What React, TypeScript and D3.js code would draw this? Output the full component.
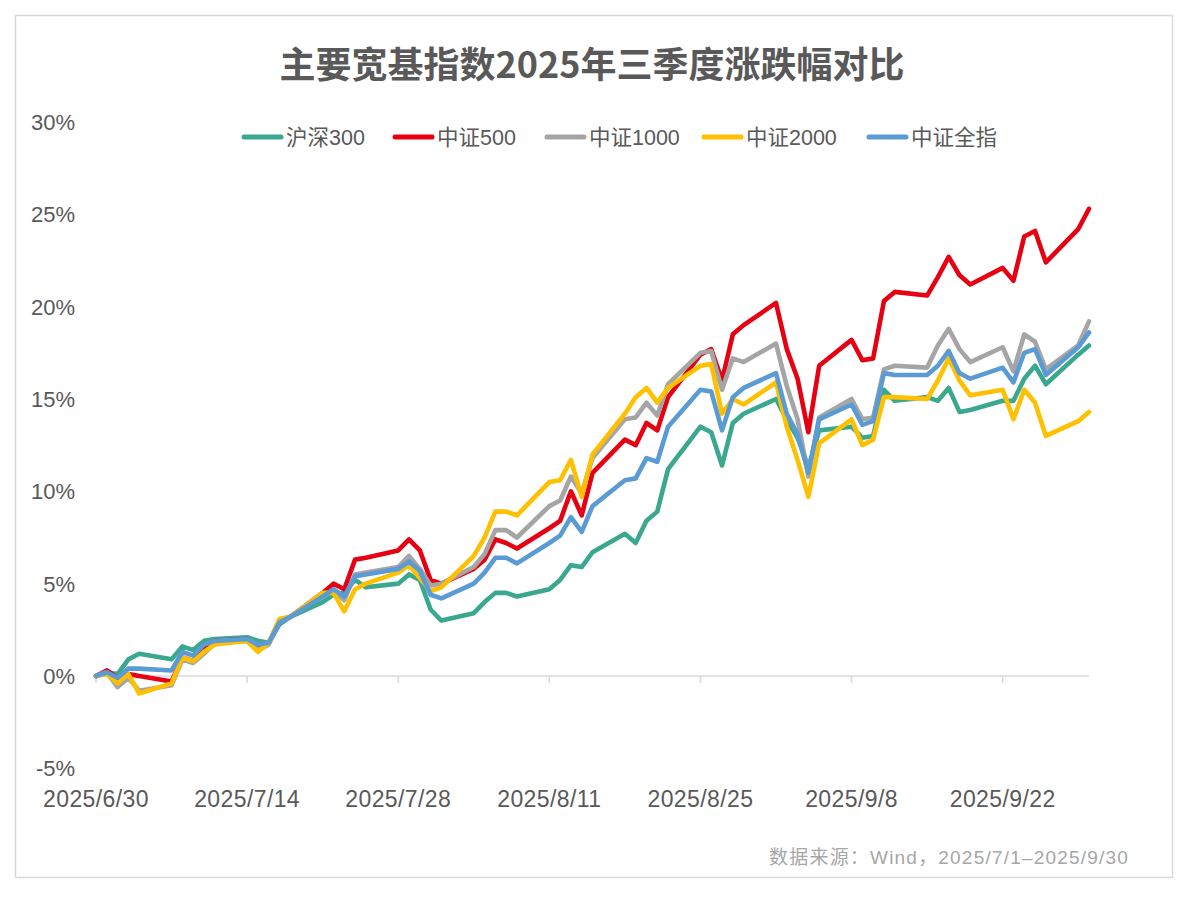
import React, { FC, useMemo } from 'react'
import * as d3 from 'd3'

// 交易日（2025/6/30 为基期）
const dates = [
	'2025-06-30', '2025-07-01', '2025-07-02', '2025-07-03', '2025-07-04',
	'2025-07-07', '2025-07-08', '2025-07-09', '2025-07-10', '2025-07-11',
	'2025-07-14', '2025-07-15', '2025-07-16', '2025-07-17', '2025-07-18',
	'2025-07-21', '2025-07-22', '2025-07-23', '2025-07-24', '2025-07-25',
	'2025-07-28', '2025-07-29', '2025-07-30', '2025-07-31', '2025-08-01',
	'2025-08-04', '2025-08-05', '2025-08-06', '2025-08-07', '2025-08-08',
	'2025-08-11', '2025-08-12', '2025-08-13', '2025-08-14', '2025-08-15',
	'2025-08-18', '2025-08-19', '2025-08-20', '2025-08-21', '2025-08-22',
	'2025-08-25', '2025-08-26', '2025-08-27', '2025-08-28', '2025-08-29',
	'2025-09-01', '2025-09-02', '2025-09-03', '2025-09-04', '2025-09-05',
	'2025-09-08', '2025-09-09', '2025-09-10', '2025-09-11', '2025-09-12',
	'2025-09-15', '2025-09-16', '2025-09-17', '2025-09-18', '2025-09-19',
	'2025-09-22', '2025-09-23', '2025-09-24', '2025-09-25', '2025-09-26',
	'2025-09-29', '2025-09-30'
]

// 累计涨跌幅（%）
const hs300 = [
	0, 0.2, 0.1, 0.9, 1.2,
	0.9, 1.6, 1.4, 1.9, 2.0,
	2.1, 1.9, 1.8, 2.8, 3.2,
	4.0, 4.4, 4.5, 5.2, 4.8,
	5.0, 5.5, 5.2, 3.6, 3.0,
	3.4, 4.0, 4.5, 4.5, 4.3,
	4.7, 5.2, 6.0, 5.9, 6.7,
	7.7, 7.2, 8.4, 8.9, 11.2,
	13.5, 13.2, 11.4, 13.7, 14.2,
	15.0, 13.9, 12.9, 11.3, 13.3,
	13.5, 12.9, 13.0, 15.5, 14.9,
	15.1, 14.9, 15.6, 14.3, 14.4,
	14.9, 14.9, 16.1, 16.8, 15.8,
	17.4, 17.9
]

const zz500 = [
	0, 0.3, -0.1, 0.1, 0.0,
	-0.3, 1.0, 0.8, 1.4, 1.9,
	2.0, 1.6, 1.8, 2.9, 3.2,
	4.5, 5.0, 4.7, 6.3, 6.4,
	6.8, 7.4, 6.8, 5.2, 5.0,
	5.8, 6.3, 7.4, 7.2, 6.9,
	8.0, 8.4, 10.0, 8.7, 11.0,
	12.8, 12.5, 13.7, 13.3, 15.1,
	17.4, 17.7, 16.0, 18.5, 19.0,
	20.2, 17.7, 16.1, 13.2, 16.8,
	18.2, 17.1, 17.2, 20.3, 20.8,
	20.6, 21.6, 22.7, 21.7, 21.2,
	22.1, 21.4, 23.8, 24.1, 22.4,
	24.2, 25.3
]

const zz1000 = [
	0, 0.2, -0.6, -0.1, -0.8,
	-0.5, 0.9, 0.7, 1.2, 1.8,
	1.9, 1.4, 1.7, 2.9, 3.2,
	4.4, 4.6, 4.1, 5.5, 5.6,
	5.9, 6.5, 5.8, 4.9, 5.0,
	5.9, 6.6, 7.9, 7.9, 7.5,
	9.2, 9.5, 10.8, 9.9, 11.8,
	13.9, 14.0, 14.8, 14.1, 15.8,
	17.5, 17.6, 15.5, 17.2, 17.0,
	18.0, 15.7, 13.9, 10.8, 14.0,
	15.0, 13.9, 14.0, 16.6, 16.8,
	16.7, 17.9, 18.8, 17.7, 17.0,
	17.8, 16.5, 18.5, 18.1, 16.6,
	17.9, 19.2
]

const zz2000 = [
	0, 0.1, -0.4, 0.1, -0.95,
	-0.4, 1.0, 0.8, 1.3, 1.7,
	1.9, 1.3, 1.8, 3.1, 3.2,
	4.5, 4.5, 3.5, 4.7, 5.0,
	5.6, 6.0, 5.3, 4.6, 4.8,
	6.5, 7.5, 8.9, 8.9, 8.7,
	10.5, 10.6, 11.7, 9.7, 12.0,
	14.2, 15.1, 15.6, 14.8, 15.6,
	16.8, 16.9, 14.2, 15.0, 14.7,
	15.9, 13.5, 11.7, 9.7, 12.6,
	13.9, 12.5, 12.8, 15.1, 15.1,
	15.0, 16.0, 17.2, 16.0, 15.2,
	15.5, 13.9, 15.5, 14.8, 13.0,
	13.8, 14.3
]

const zzqz = [
	0, 0.2, -0.1, 0.4, 0.4,
	0.3, 1.3, 1.1, 1.7, 1.9,
	2.0, 1.7, 1.8, 2.9, 3.2,
	4.3, 4.7, 4.3, 5.4, 5.5,
	5.8, 6.2, 5.7, 4.4, 4.2,
	5.0, 5.6, 6.4, 6.4, 6.1,
	7.2, 7.6, 8.6, 7.8, 9.2,
	10.6, 10.7, 11.8, 11.6, 13.5,
	15.5, 15.4, 13.3, 15.1, 15.6,
	16.4, 14.2, 13.1, 11.0, 13.9,
	14.7, 13.6, 13.8, 16.4, 16.3,
	16.3, 16.8, 17.6, 16.4, 16.1,
	16.7, 15.9, 17.5, 17.7, 16.3,
	17.8, 18.6
]

const seriesNames = ['沪深300', '中证500', '中证1000', '中证2000', '中证全指']
const seriesColors = ['#3AA78F', '#E60012', '#A5A5A5', '#FFC000', '#5B9BD5']
const yTicks = [-5, 0, 5, 10, 15, 20, 25, 30]
const xTicks = ['2025-06-30', '2025-07-14', '2025-07-28', '2025-08-11', '2025-08-25', '2025-09-08', '2025-09-22']

const WIDTH = 1188
const HEIGHT = 904
const textFont = '"Liberation Sans", "Noto Sans CJK SC", sans-serif'
const legendX = [242, 393, 545, 702, 867]

const parse = d3.timeParse('%Y-%m-%d')
const fmt = d3.timeFormat('%Y/%-m/%-d')

const App: FC = () => {
	const allSeries = [hs300, zz500, zz1000, zz2000, zzqz]
	const days = useMemo(() => dates.map(d => parse(d) as Date), [])

	const xScale = useMemo(() => {
		return d3
			.scaleTime()
			.domain([parse('2025-06-30') as Date, parse('2025-09-30') as Date])
			.range([96, 1089])
	}, [])

	const yScale = useMemo(() => {
		return d3.scaleLinear().domain([-5, 30]).range([768.3, 122])
	}, [])

	const line = d3
		.line<number>()
		.x((_, i) => xScale(days[i]))
		.y(d => yScale(d))

	return (
		<svg
			width={WIDTH}
			height={HEIGHT}
			style={{ position: 'absolute', left: 0, top: 0, background: '#fff' }}
		>
			<rect x={0} y={0} width={WIDTH} height={HEIGHT} fill="#fff" />
			<rect
				x={15.5}
				y={15.5}
				width={1157}
				height={862}
				fill="#fff"
				stroke="#D9D9D9"
				strokeWidth={1.5}
			/>
			{/* 标题 */}
			<text
				x={592}
				y={78}
				textAnchor="middle"
				fontFamily='"Noto Sans CJK SC", sans-serif'
				fontWeight="bold"
				fontSize={36}
				fill="#595959"
			>
				主要宽基指数2025年三季度涨跌幅对比
			</text>
			{/* y轴 */}
			<g fontFamily={textFont} fontSize={22} fill="#595959">
				{yTicks.map(t => (
					<text key={t} x={75} y={yScale(t)} dy="0.36em" textAnchor="end">
						{t < 0 ? `-${Math.abs(t)}%` : `${t}%`}
					</text>
				))}
			</g>
			{/* x轴 */}
			<line
				x1={xScale.range()[0]}
				x2={xScale.range()[1]}
				y1={yScale(0)}
				y2={yScale(0)}
				stroke="#D9D9D9"
				strokeWidth={1.6}
			/>
			<g fontFamily={textFont} fontSize={23} letterSpacing={0.4} fill="#595959">
				{xTicks.map(t => {
					const d = parse(t) as Date
					const x = xScale(d)
					return (
						<g key={t}>
							<line x1={x} x2={x} y1={yScale(0)} y2={yScale(0) + 7} stroke="#D9D9D9" strokeWidth={1.6} />
							<text x={x} y={806.5} textAnchor="middle">
								{fmt(d)}
							</text>
						</g>
					)
				})}
			</g>
			{/* 主图 */}
			<g fill="none">
				{allSeries.map((s, i) => (
					<path
						key={seriesNames[i]}
						d={line(s) || ''}
						stroke={seriesColors[i]}
						strokeWidth={4.6}
						strokeLinejoin="round"
						strokeLinecap="round"
					/>
				))}
			</g>
			{/* 图例 */}
			<g fontFamily={textFont} fontSize={21.5} fill="#595959">
				{seriesNames.map((name, i) => (
					<g key={name} transform={`translate(${legendX[i]}, 137)`}>
						<line x1={2} x2={39} y1={0} y2={0} stroke={seriesColors[i]} strokeWidth={5} strokeLinecap="round" />
						<text x={44} y={0} dy="0.36em">
							{name}
						</text>
					</g>
				))}
			</g>
			<text
				x={1129}
				y={864}
				textAnchor="end"
				fontFamily={textFont}
				fontSize={19}
				letterSpacing={1.2}
				fill="#A6A6A6"
			>
				数据来源：Wind，2025/7/1–2025/9/30
			</text>
		</svg>
	)
}

export default App
